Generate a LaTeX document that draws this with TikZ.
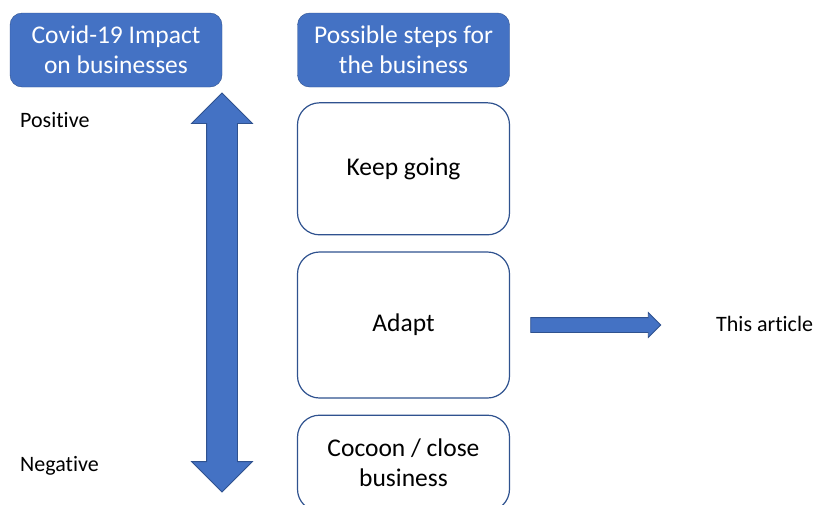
\documentclass[tikz,border=0pt]{standalone}
\usepackage{fontspec}
\setmainfont{Carlito}[Ligatures=NoCommon]
\usetikzlibrary{positioning,shapes.arrows}
\definecolor{officeblue}{HTML}{4472C4}
\definecolor{edgeblue}{HTML}{2F528F}

\begin{document}
\begin{tikzpicture}[x=1pt,y=-1pt,node distance=16pt,
  head/.style={draw=edgeblue,fill=officeblue,rounded corners=12pt,text=white,
    minimum width=212pt,minimum height=74pt,align=center,
    font=\fontsize{25.5}{30}\selectfont,inner sep=0pt},
  stepbox/.style={draw=edgeblue,line width=1.2pt,fill=white,rounded corners=22pt,
    minimum width=212pt,align=center,font=\fontsize{25.5}{30}\selectfont,inner sep=0pt},
  side/.style={anchor=west,font=\fontsize{22}{24}\selectfont,inner sep=0pt},
  bluearrow/.style={draw=edgeblue,line width=0.8pt,fill=officeblue,inner xsep=0pt}]
  \useasboundingbox (0,0) rectangle (817,504);
  \node[head] (impact) at (116,50) {Covid-19 Impact\\on businesses};
  \node[head] (steps) at (403.5,50) {Possible steps for\\the business};
  \node[stepbox,minimum height=132pt] (keep) [below=15pt of steps] {Keep going};
  \node[stepbox,minimum height=146pt] (adapt) [below=of keep] {Adapt};
  \node[stepbox,minimum height=96pt] (cocoon) [below=of adapt] {Cocoon / close\\business};
  \node[side] (pos) at (20,120) {Positive};
  \node[side] (neg) at (20,466) {Negative};
  \node[side] (art) at (716,324) {This article};
  % impact scale
  \node[bluearrow,double arrow,rotate=90,double arrow head extend=15pt,
    inner ysep=15pt,minimum height=399pt] (scale) at (222,292.5) {};
  % pointer to the article
  \node[bluearrow,single arrow,single arrow head extend=5pt,
    inner ysep=7pt,minimum height=130pt] (ptr) at (592,325) {};
\end{tikzpicture}
\end{document}
